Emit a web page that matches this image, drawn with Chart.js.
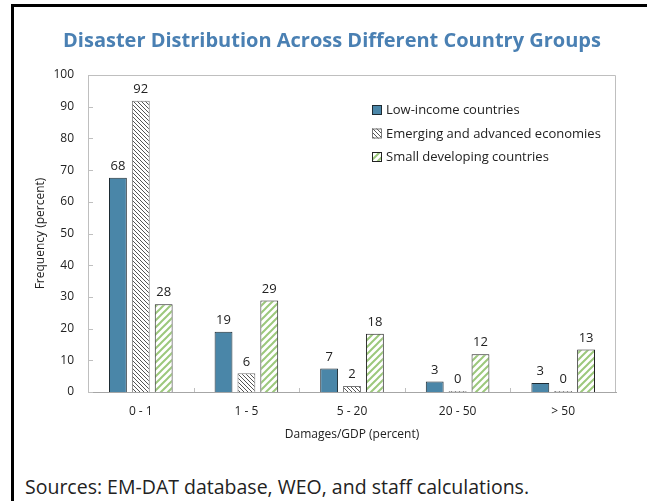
<!DOCTYPE html>
<html lang="en">
<head>
  <meta charset="UTF-8"/>
  <title>Disaster Distribution Across Different Country Groups</title>
  <script src="https://cdn.jsdelivr.net/npm/chart.js"></script>
  <style>
    body { margin: 0; background: #fff; font-family: 'Open Sans', sans-serif; }
    .frame { position: relative; width: 647px; height: 501px; overflow: hidden; }
    .frame canvas { position: absolute; left: 0; top: 0; }
    .edge-left { position: absolute; left: 11px; top: 4px; width: 3px; height: 497px; background: #000; }
    .edge-top { position: absolute; left: 11px; top: 4px; width: 636px; height: 3px; background: #000; }
    .title { position: absolute; left: 0; width: 664px; top: 26px; text-align: center;
      font-size: 20px; font-weight: bold; color: #4a80b3; white-space: nowrap; }
    .source { position: absolute; left: 25px; top: 473px; font-size: 19.5px; color: #222; white-space: nowrap; }
  </style>
</head>
<body>

<div class="frame">
  <canvas id="disasterChart" width="647" height="460"></canvas>
  <div class="edge-left"></div>
  <div class="edge-top"></div>
  <div class="title">Disaster Distribution Across Different Country Groups</div>
  <div class="source">Sources: EM-DAT database, WEO, and staff calculations.</div>
</div>

<script>
  const categories = ['0 - 1', '1 - 5', '5 - 20', '20 - 50', '> 50'];
  const lowIncome = [67.6, 19.0, 7.4, 3.3, 2.8];
  const emerging = [91.9, 5.9, 1.9, 0.3, 0.3];
  const smallDeveloping = [27.7, 28.9, 18.4, 11.9, 13.4];
  const seriesNames = ['Low-income countries', 'Emerging and advanced economies', 'Small developing countries'];

  const canvas = document.getElementById('disasterChart');
  const ctx = canvas.getContext('2d');
  const textColor = '#222';
  const baseFont = { family: "'Open Sans', sans-serif", size: 12 };

  // diagonal hatch fill; 'down' = "\" lines, 'up' = "/" lines
  function hatch(size, color, width, dir) {
    const c = document.createElement('canvas');
    c.width = size; c.height = size;
    const g = c.getContext('2d');
    g.fillStyle = '#fff';
    g.fillRect(0, 0, size, size);
    g.strokeStyle = color;
    g.lineWidth = width;
    g.beginPath();
    if (dir === 'down') {
      g.moveTo(-1, -1); g.lineTo(size + 1, size + 1);
      g.moveTo(-2, size - 2); g.lineTo(2, size + 2);
      g.moveTo(size - 2, -2); g.lineTo(size + 2, 2);
    } else {
      g.moveTo(-1, size + 1); g.lineTo(size + 1, -1);
      g.moveTo(-2, 2); g.lineTo(2, -2);
      g.moveTo(size - 2, size + 2); g.lineTo(size + 2, size - 2);
    }
    g.stroke();
    return ctx.createPattern(c, 'repeat');
  }

  const plotFrame = {
    id: 'plotFrame',
    beforeDatasetsDraw(chart) {
      const { ctx, chartArea: a, scales: { x, y } } = chart;
      ctx.save();
      ctx.strokeStyle = '#bfbfbf';
      ctx.lineWidth = 1;
      ctx.beginPath();
      ctx.moveTo(a.left + 0.5, a.bottom);
      ctx.lineTo(a.left + 0.5, a.top + 0.5);
      ctx.lineTo(a.right - 0.5, a.top + 0.5);
      ctx.lineTo(a.right - 0.5, a.bottom);
      y.ticks.forEach(t => {
        const py = Math.round(y.getPixelForValue(t.value)) + 0.5;
        ctx.moveTo(a.left, py);
        ctx.lineTo(a.left + 5, py);
      });
      for (let i = 1; i < categories.length; i++) {
        const px = Math.round((x.getPixelForValue(i - 1) + x.getPixelForValue(i)) / 2) + 0.5;
        ctx.moveTo(px, a.bottom);
        ctx.lineTo(px, a.bottom - 4);
      }
      ctx.stroke();
      ctx.restore();
    }
  };

  const valueLabels = {
    id: 'valueLabels',
    afterDatasetsDraw(chart) {
      const ctx = chart.ctx;
      ctx.save();
      ctx.font = "13px 'Open Sans', sans-serif";
      ctx.fillStyle = textColor;
      ctx.textAlign = 'center';
      ctx.textBaseline = 'bottom';
      chart.data.datasets.forEach((ds, i) => {
        chart.getDatasetMeta(i).data.forEach((bar, j) => {
          ctx.fillText(Math.round(ds.data[j]), bar.x, bar.y - 5);
        });
      });
      ctx.restore();
    }
  };

  const boxLegend = {
    id: 'boxLegend',
    afterDraw(chart) {
      const ctx = chart.ctx;
      ctx.save();
      ctx.font = "13px 'Open Sans', sans-serif";
      ctx.textBaseline = 'middle';
      chart.data.datasets.forEach((ds, i) => {
        const top = 105 + i * 23.5;
        ctx.fillStyle = ds.backgroundColor;
        ctx.fillRect(372, top, 10, 10);
        ctx.strokeStyle = ds.borderColor;
        ctx.lineWidth = 1;
        ctx.strokeRect(372.5, top + 0.5, 9, 9);
        ctx.fillStyle = textColor;
        ctx.fillText(ds.label, 386, top + 5.5);
      });
      ctx.restore();
    }
  };

  new Chart(ctx, {
    type: 'bar',
    data: {
      labels: categories,
      datasets: [
        {
          label: seriesNames[0],
          data: lowIncome,
          backgroundColor: '#4a86a8',
          borderColor: '#1e2b33',
          borderWidth: 1
        },
        {
          label: seriesNames[1],
          data: emerging,
          backgroundColor: hatch(4, '#555', 1, 'down'),
          borderColor: '#777',
          borderWidth: 1
        },
        {
          label: seriesNames[2],
          data: smallDeveloping,
          backgroundColor: hatch(7, '#9cc87c', 2, 'up'),
          borderColor: '#222',
          borderWidth: 1
        }
      ]
    },
    options: {
      responsive: false,
      animation: false,
      categoryPercentage: 0.65,
      barPercentage: 0.78,
      layout: { padding: { left: 0, right: 31, top: 75, bottom: 0 } },
      plugins: {
        legend: { display: false },
        tooltip: { enabled: false },
        title: { display: false }
      },
      scales: {
        x: {
          grid: { display: false, drawTicks: false },
          border: { color: '#a6a6a6' },
          ticks: { color: textColor, font: baseFont, padding: 12 },
          title: {
            display: true,
            text: 'Damages/GDP (percent)',
            color: textColor,
            font: baseFont,
            padding: { top: 4, bottom: 18 }
          },
          afterFit(scale) { scale.height = 68; }
        },
        y: {
          min: 0,
          max: 100,
          grid: { display: false, drawTicks: false },
          border: { color: '#bfbfbf' },
          ticks: { stepSize: 10, color: textColor, font: baseFont, padding: 14 },
          title: {
            display: true,
            text: 'Frequency (percent)',
            color: textColor,
            font: baseFont,
            padding: { top: 33, bottom: 0 }
          },
          afterFit(scale) { scale.width = 88; }
        }
      }
    },
    plugins: [plotFrame, valueLabels, boxLegend]
  });
</script>

</body>
</html>
